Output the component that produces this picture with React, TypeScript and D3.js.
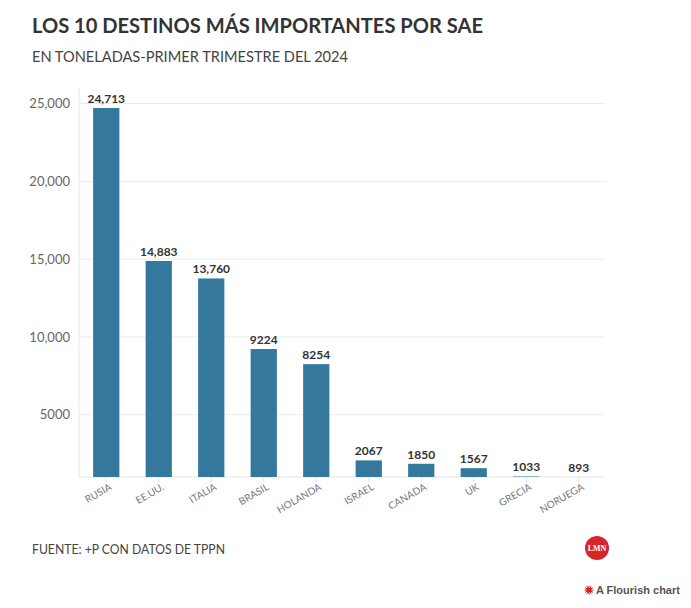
import React from "react";
import * as d3 from "d3";

const categories = ["RUSIA", "EE.UU.", "ITALIA", "BRASIL", "HOLANDA", "ISRAEL", "CANADA", "UK", "GRECIA", "NORUEGA"];
const values = [24713, 14883, 13760, 9224, 8254, 2067, 1850, 1567, 1033, 893];
const yTicks = [5000, 10000, 15000, 20000, 25000];

const W = 691, H = 608;
const left = 80, right = 605, top = 88, bottom = 477;
const FONT = "'Source Sans Pro', Lato, 'Open Sans', sans-serif";

const fmt = (v: number) => (v >= 10000 ? d3.format(",")(v) : String(v));

export default function App() {
  const x = d3.scaleBand<string>().domain(categories).range([left, right]).paddingInner(0.5).paddingOuter(0.25);
  const y = d3.scaleLinear().domain([1000, 26000]).range([bottom, top]);
  const bw = x.bandwidth();

  return (
    <svg width={W} height={H} style={{ position: "absolute", left: 0, top: 0, background: "#fff" }} fontFamily={FONT}>
      <text x={32} y={33} fontSize={21} fontWeight={700} fill="#333" textLength={451} lengthAdjust="spacingAndGlyphs">LOS 10 DESTINOS MÁS IMPORTANTES POR SAE</text>
      <text x={32} y={62} fontSize={14.8} fill="#444" textLength={316} lengthAdjust="spacingAndGlyphs">EN TONELADAS-PRIMER TRIMESTRE DEL 2024</text>

      {yTicks.map((t) => (
        <g key={t}>
          <line x1={left - 1} x2={right} y1={y(t)} y2={y(t)} stroke="#ebebeb" strokeWidth={1} />
          <text x={70} y={y(t)} dy="0.35em" textAnchor="end" fontSize={13} fill="#666">{fmt(t)}</text>
        </g>
      ))}
      <line x1={left - 1} x2={left - 1} y1={top} y2={bottom} stroke="#e6e6e6" />
      <line x1={left - 1} x2={right} y1={bottom} y2={bottom} stroke="#e6e6e6" />

      {categories.map((c, i) => {
        const v = values[i];
        const yv = Math.min(y(v), bottom);
        const cx = (x(c) as number) + bw / 2;
        return (
          <g key={c}>
            <rect x={x(c)} y={yv} width={bw} height={bottom - yv} fill="#34789e" />
            <text x={cx} y={yv - 5} textAnchor="middle" fontSize={12} fontWeight={700} fill="#333">{fmt(v)}</text>
            <line x1={cx} x2={cx} y1={bottom} y2={bottom + 5} stroke="#e0e0e0" />
            <text transform={`translate(${cx + 6},${bottom + 12}) rotate(-30)`} textAnchor="end" fontSize={10} fill="#777">{c}</text>
          </g>
        );
      })}

      <text x={32} y={554} fontSize={13} fill="#444" textLength={193} lengthAdjust="spacingAndGlyphs">FUENTE: +P CON DATOS DE TPPN</text>
      <circle cx={597} cy={548} r={12} fill="#d7262b" />
      <text x={597} y={551} textAnchor="middle" fontSize={8} fontWeight={700} fill="#fff" fontFamily="'Liberation Serif', serif">LMN</text>

      <g transform="translate(589,590)">
        {d3.range(12).map((k) => {
          const a = (k * Math.PI) / 6;
          return <line key={k} x1={0} y1={0} x2={Math.cos(a) * 4.5} y2={Math.sin(a) * 4.5} stroke="#d22" strokeWidth={1} />;
        })}
        <circle r={2.6} fill="#d22" />
      </g>
      <text x={596} y={594} fontSize={11} fontWeight={700} fill="#555" fontFamily="'Liberation Sans', Arial, sans-serif">A Flourish chart</text>
    </svg>
  );
}
